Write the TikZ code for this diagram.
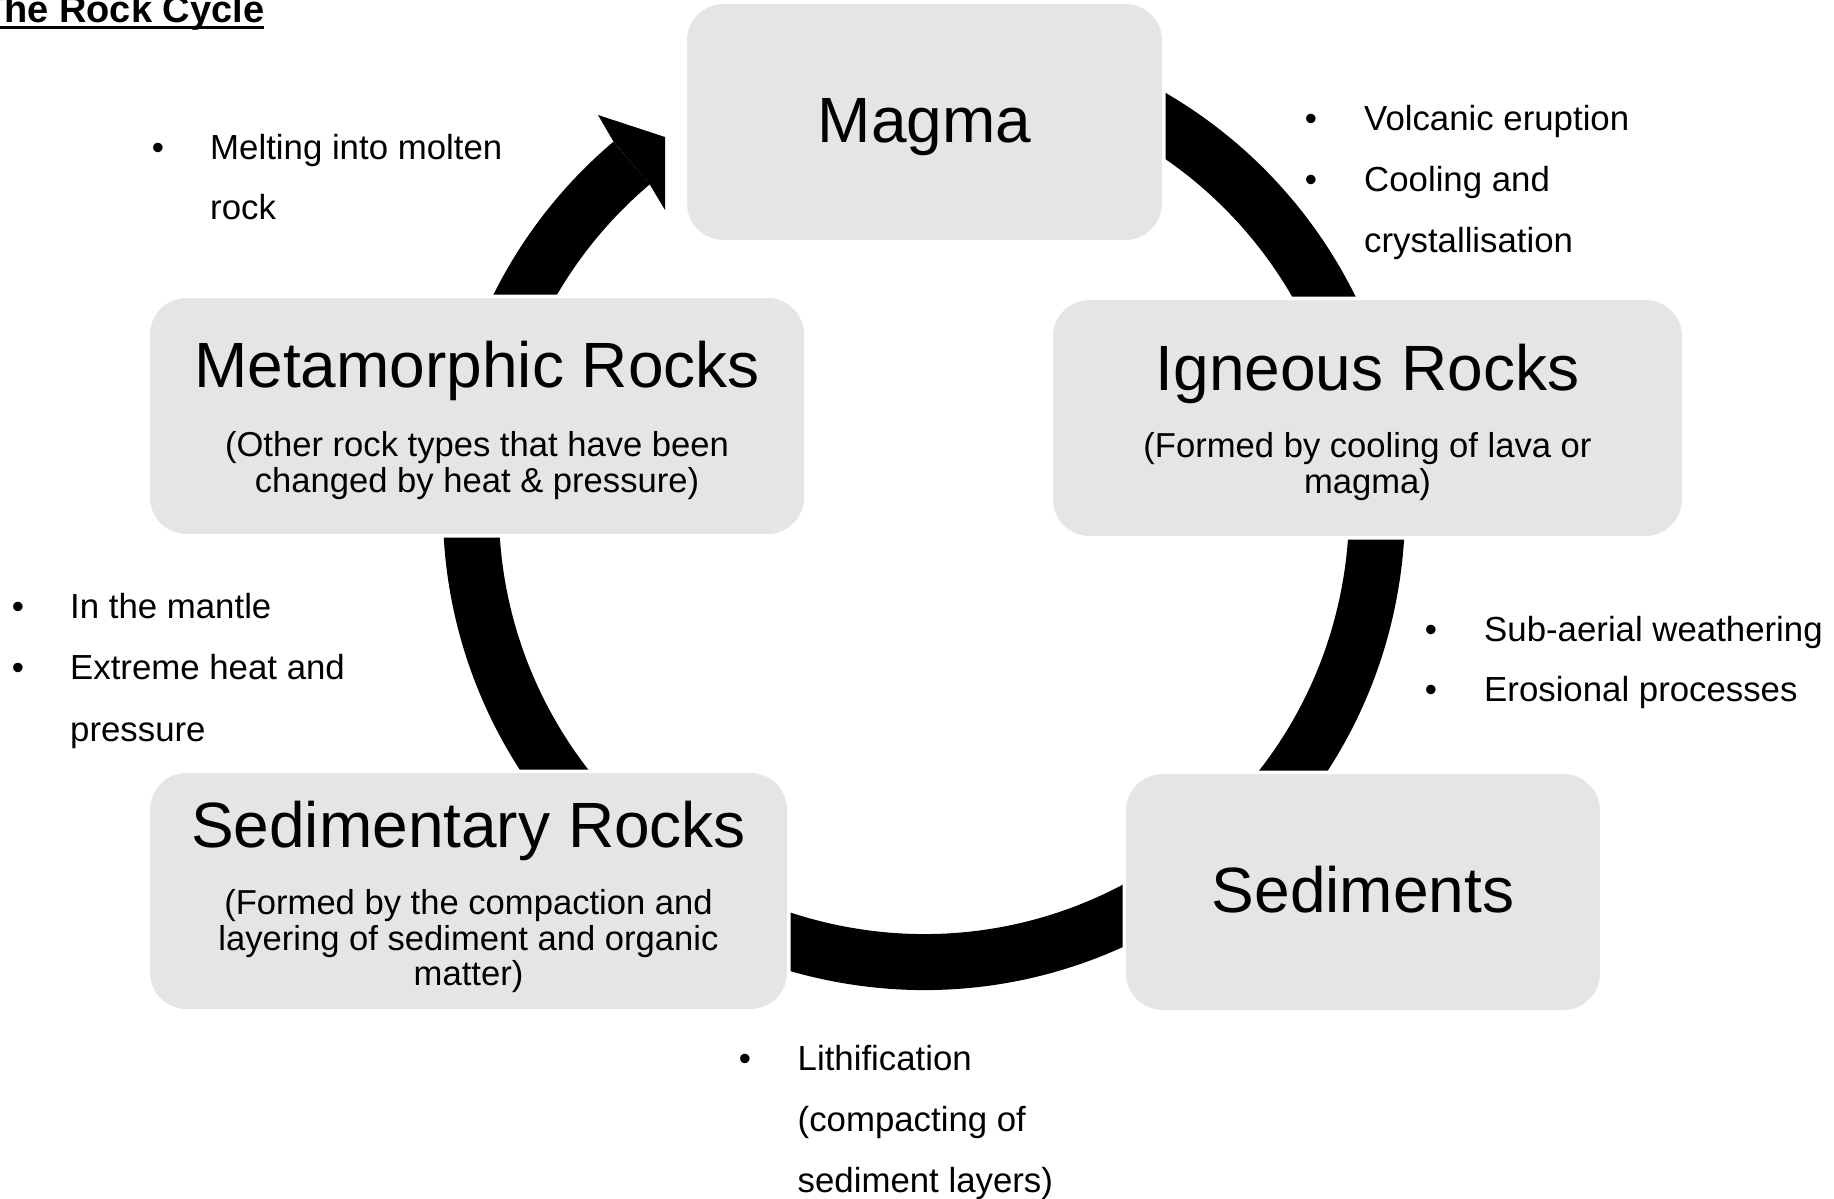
\documentclass[tikz,border=0pt]{standalone}
\usepackage{fontspec}
\setmainfont{Liberation Sans}
\definecolor{boxgray}{RGB}{229,229,229}
\begin{document}
\begin{tikzpicture}[x=1pt,y=-1pt,
  rockbox/.style={rectangle, rounded corners=38pt, fill=boxgray, draw=white,
    line width=3.5pt, inner sep=0pt, outer sep=0pt},
  headtext/.style={inner sep=0pt, anchor=base, font=\fontsize{64}{72}\selectfont},
  subtext/.style={inner sep=0pt, anchor=base, font=\fontsize{34.6}{40}\selectfont},
  notetext/.style={inner sep=0pt, anchor=base west, font=\fontsize{34.8}{40}\selectfont},
  notedot/.style={inner sep=0pt, anchor=base, font=\fontsize{34.8}{40}\selectfont},
]
\useasboundingbox (0,0) rectangle (1834,1199);

% heading
\node[anchor=base west, inner sep=0pt, font=\fontsize{38}{44}\selectfont\bfseries]
  (title) at (-19,23) {The Rock Cycle};
\draw[line width=2.6pt] ([yshift=-4.7pt]title.base west) -- ([yshift=-4.7pt]title.base east);

% cycle ring with its arrowhead
\coordinate (ringc) at (924,509);
\draw[line width=56pt] (ringc) ++(-80:453) arc[start angle=-80, end angle=229.8, radius=453];
\fill (613.5,141.6) -- (598,115) -- (665,137) -- (665,210) -- (649.7,184.4) -- cycle;

% stage boxes
\node[rockbox, minimum width=478.5pt, minimum height=239.5pt] (magma) at (924.5,122) {};
\node[rockbox, minimum width=657.5pt, minimum height=239.5pt] (meta) at (477,416) {};
\node[rockbox, minimum width=632.5pt, minimum height=239.5pt] (igneous) at (1367.5,418) {};
\node[rockbox, minimum width=640.5pt, minimum height=239.5pt] (sedrock) at (468.5,891) {};
\node[rockbox, minimum width=477.5pt, minimum height=239.5pt] (sediments) at (1363,892) {};

% box texts
\node[headtext] (magma-h) at (924.5,142) {Magma};

\node[headtext] (meta-h) at (477,387) {Metamorphic Rocks};
\node[subtext] (meta-s1) at (477,456) {(Other rock types that have been};
\node[subtext] (meta-s2) at (477,492) {changed by heat \& pressure)};

\node[headtext] (igneous-h) at (1367.5,390) {Igneous Rocks};
\node[subtext] (igneous-s1) at (1367.5,457) {(Formed by cooling of lava or};
\node[subtext] (igneous-s2) at (1367.5,493) {magma)};

\node[headtext] (sedrock-h) at (468.5,847) {Sedimentary Rocks};
\node[subtext] (sedrock-s1) at (468.5,914) {(Formed by the compaction and};
\node[subtext] (sedrock-s2) at (468.5,950) {layering of sediment and organic};
\node[subtext] (sedrock-s3) at (468.5,985) {matter)};

\node[headtext] (sediments-h) at (1363,912) {Sediments};

% process notes
\node[notedot] (n1-d1) at (158,159) {•};
\node[notetext] (n1-l1) at (210,159) {Melting into molten};
\node[notetext] (n1-l2) at (210,219) {rock};

\node[notedot] (n2-d1) at (1311,130.5) {•};
\node[notedot] (n2-d2) at (1311,191.5) {•};
\node[notetext] (n2-l1) at (1364,130.5) {Volcanic eruption};
\node[notetext] (n2-l2) at (1364,191.5) {Cooling and};
\node[notetext] (n2-l3) at (1364,252.5) {crystallisation};

\node[notedot] (n3-d1) at (18,618) {•};
\node[notedot] (n3-d2) at (18,679.5) {•};
\node[notetext] (n3-l1) at (70,618) {In the mantle};
\node[notetext] (n3-l2) at (70,679.5) {Extreme heat and};
\node[notetext] (n3-l3) at (70,741) {pressure};

\node[notedot] (n4-d1) at (1431,641) {•};
\node[notedot] (n4-d2) at (1431,701.5) {•};
\node[notetext] (n4-l1) at (1484,641) {Sub-aerial weathering};
\node[notetext] (n4-l2) at (1484,701.5) {Erosional processes};

\node[notedot] (n5-d1) at (745,1070) {•};
\node[notetext] (n5-l1) at (797.5,1070) {Lithification};
\node[notetext] (n5-l2) at (797.5,1131) {(compacting of};
\node[notetext] (n5-l3) at (797.5,1192) {sediment layers)};
\end{tikzpicture}
\end{document}
